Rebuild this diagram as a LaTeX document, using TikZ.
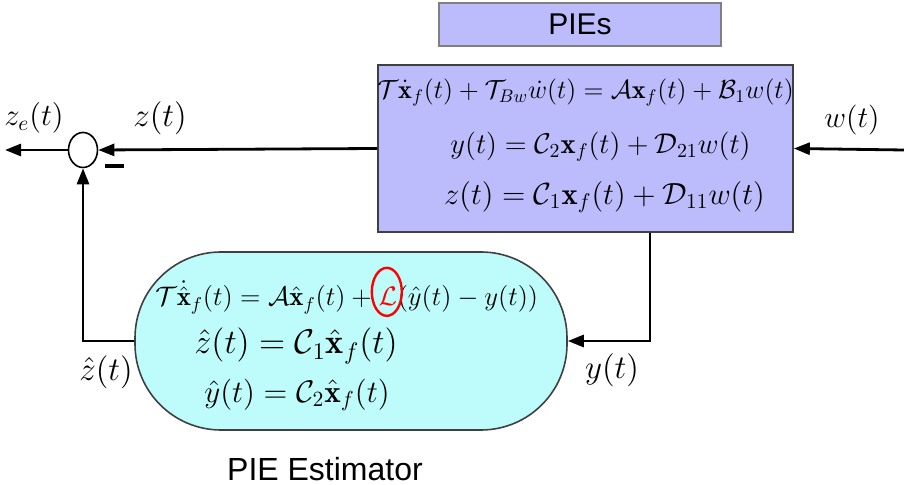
\documentclass[tikz,border=0pt]{standalone}
\usepackage{amsmath}
\usepackage{fontspec}
\newfontfamily\labelsans{Liberation Sans}
\usetikzlibrary{arrows.meta,shapes.geometric}
\definecolor{piefill}{HTML}{BCBCFC}
\definecolor{estfill}{HTML}{BEFCFC}
\definecolor{boxline}{HTML}{404040}
\tikzset{
  sig/.style={line width=1.4pt,-{Triangle[length=8pt,width=6pt]}},
  eqn/.style={inner sep=0pt,font=\fontsize{14.4}{14.4}\selectfont,transform shape},
  lbl/.style={inner sep=0pt,font=\fontsize{14.4}{14.4}\selectfont,transform shape},
}
\begin{document}
\begin{tikzpicture}[x=0.5pt,y=-0.5pt]
\useasboundingbox (0,0) rectangle (904,485);
% title box
\node[draw=gray,fill=piefill,minimum width=141pt,minimum height=21.5pt,inner sep=0pt,line width=0.6pt,font=\labelsans\fontsize{15}{15}\selectfont] (title) at (580,24.5) {PIEs};
% main plant box
\node[draw=boxline,fill=piefill,minimum width=207.5pt,minimum height=83.5pt,inner sep=0pt,line width=0.8pt] (plant) at (585.5,148.5) {};
\node[eqn,scale=0.91] (p1) at (585.5,92) {$\mathcal{T}\dot{\mathbf{x}}_f(t)+\mathcal{T}_{Bw}\dot{w}(t)=\mathcal{A}\mathbf{x}_f(t)+\mathcal{B}_1w(t)$};
\node[eqn,scale=0.993] (p2) at (600.5,147) {$y(t)=\mathcal{C}_2\mathbf{x}_f(t)+\mathcal{D}_{21}w(t)$};
\node[eqn,scale=1.0625] (p3) at (604.5,197) {$z(t)=\mathcal{C}_1\mathbf{x}_f(t)+\mathcal{D}_{11}w(t)$};
% estimator
\node[draw=boxline,fill=estfill,minimum width=216pt,minimum height=89pt,rounded corners=43pt,inner sep=0pt,line width=0.8pt] (est) at (351,341) {};
\node[eqn,scale=0.93,anchor=base west] (e1a) at (155,306) {$\mathcal{T}\dot{\hat{\mathbf{x}}}_f(t)=\mathcal{A}\hat{\mathbf{x}}_f(t)+{}$};
\node[eqn,scale=0.93,anchor=base west,text=red] (eL) at (e1a.base east) {$\mathcal{L}$};
\node[eqn,scale=0.93,anchor=base west] (e1b) at (eL.base east) {$(\hat{y}(t)-y(t))$};
\node[eqn,scale=1.19] (e2) at (296,346) {$\hat{z}(t)=\mathcal{C}_1\hat{\mathbf{x}}_f(t)$};
\node[eqn,scale=1.083] (e3) at (297,395) {$\hat{y}(t)=\mathcal{C}_2\hat{\mathbf{x}}_f(t)$};
\node[draw=red,line width=1.2pt,ellipse,minimum width=15pt,minimum height=24pt,inner sep=0pt,yshift=2.5pt,xshift=-0.5pt] (lcirc) at (eL.center) {};
\node[font=\labelsans\fontsize{16}{16}\selectfont,inner sep=0pt] (esttitle) at (325,469) {PIE Estimator};
% summing junction
\node[draw,ellipse,minimum width=14.5pt,minimum height=17.5pt,inner sep=0pt,line width=0.8pt] (sum) at (83,150) {};
\node[inner sep=0pt,minimum width=9.5pt,minimum height=2pt,fill=black] (minus) at (114.5,166) {};
% signals
\coordinate (out) at (5,150);
\coordinate (win) at (904,150);
\coordinate (ycorner) at (650,341);
\coordinate (zcorner) at (83,341);
\draw[sig] (plant.west) -- (sum.east);
\draw[sig] (sum.west) -- (out);
\draw[sig] (win) -- (plant.east);
\draw[sig] (plant.south -| ycorner) -- (ycorner) -- (est.east);
\draw[sig] (est.west) -- (zcorner) -- (sum.south);
% labels
\node[lbl,scale=1.15] (zl) at (160,118) {$z(t)$};
\node[lbl,scale=1.07] (zel) at (34,118) {$z_e(t)$};
\node[lbl,scale=1.04] (wl) at (852,120) {$w(t)$};
\node[lbl,scale=1.15] (yl) at (612,370) {$y(t)$};
\node[lbl,scale=1.15] (zhl) at (106,372) {$\hat{z}(t)$};
\end{tikzpicture}
\end{document}
